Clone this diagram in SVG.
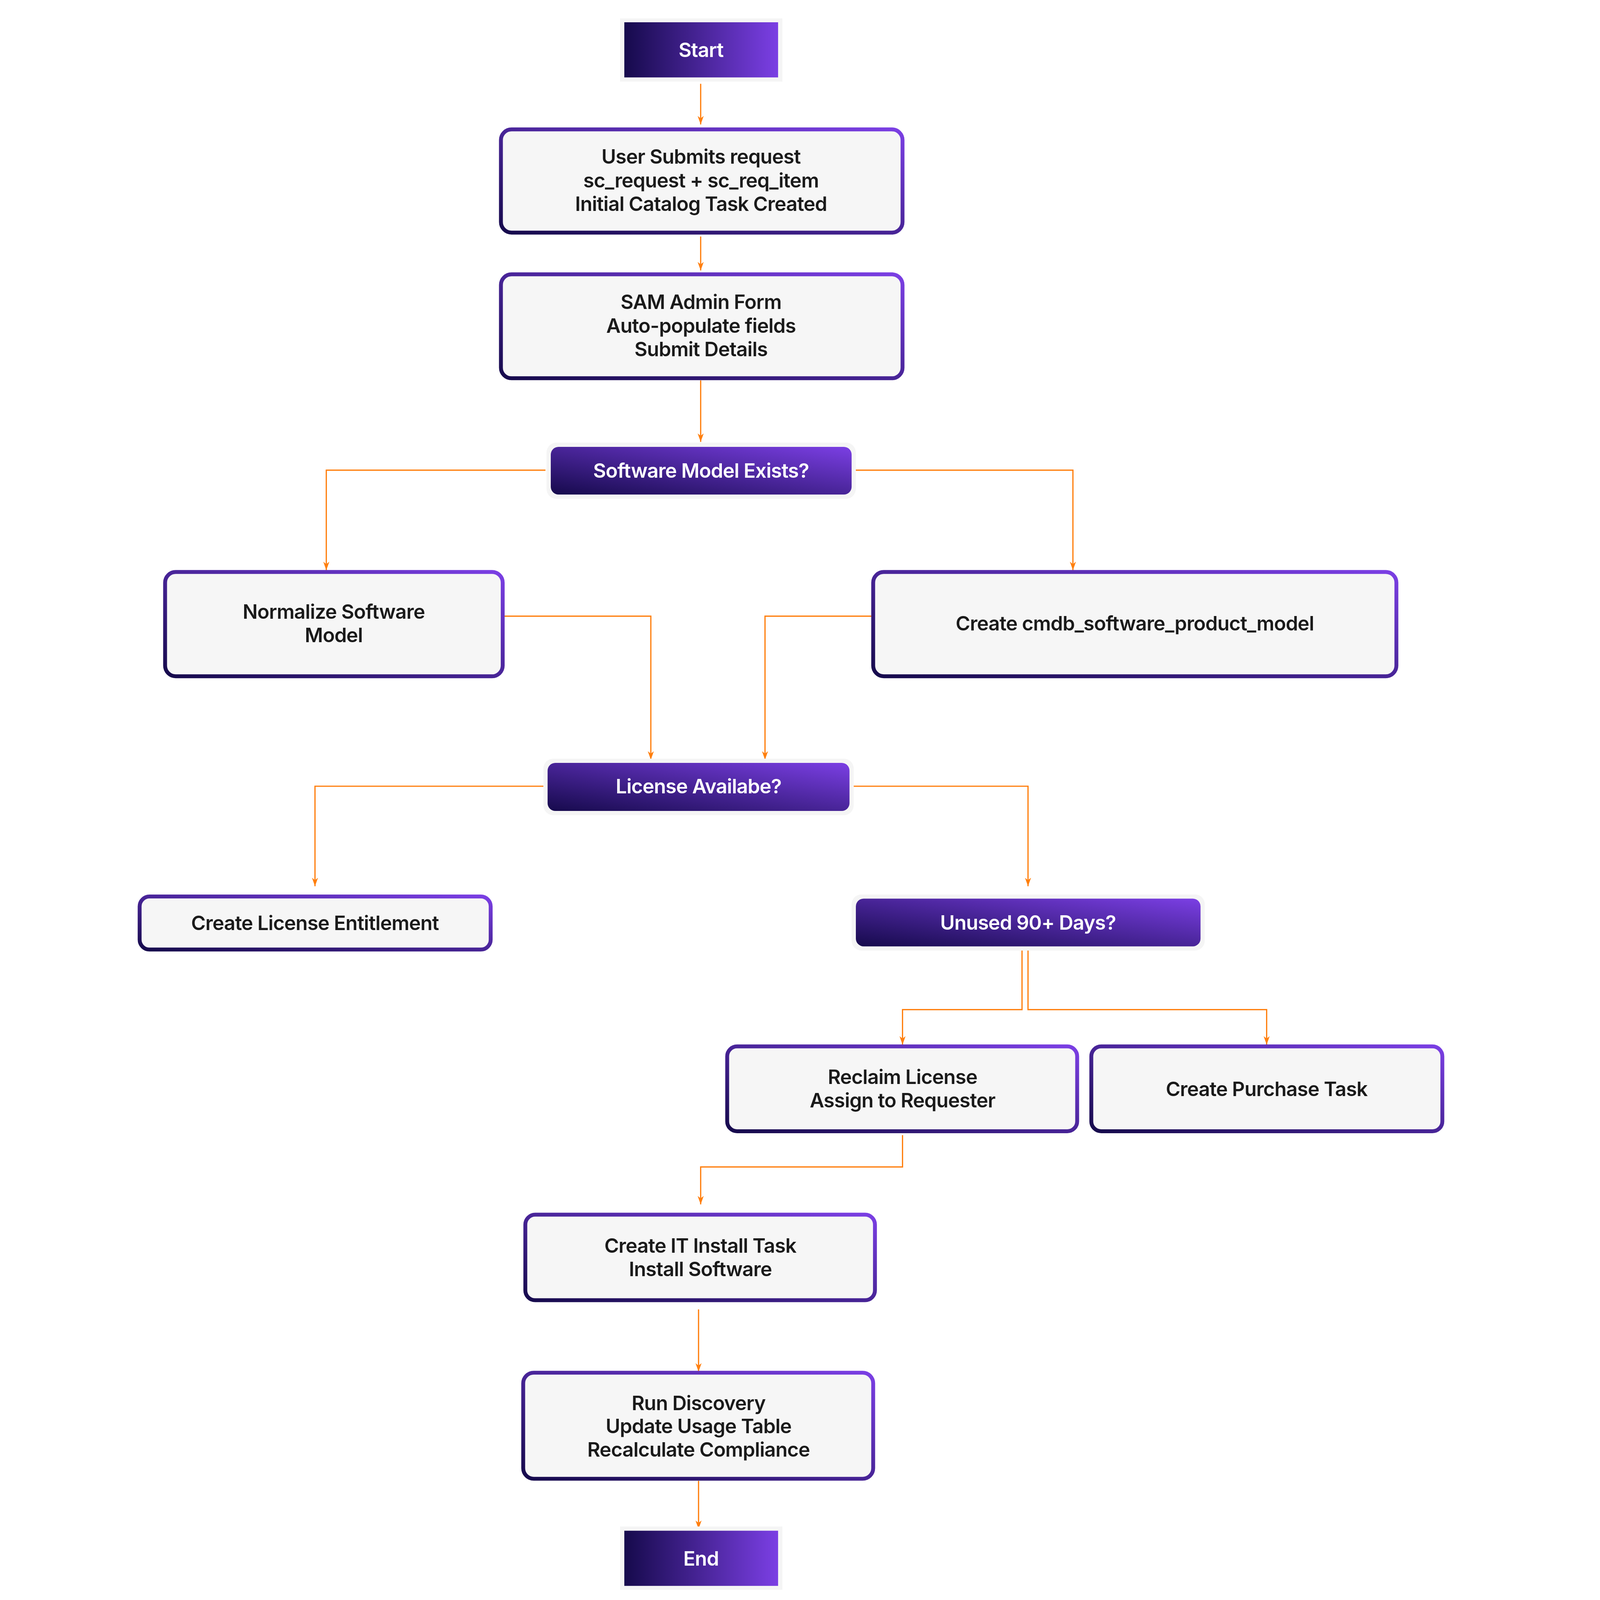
<svg xmlns="http://www.w3.org/2000/svg" width="4500" height="4500" viewBox="0 0 4500 4500">
<defs>
<linearGradient id="g" x1="0" y1="1" x2="1" y2="0"><stop offset="0" stop-color="#160a4c"/><stop offset="1" stop-color="#7b3fe4"/></linearGradient>
<linearGradient id="gh" x1="0" y1="0" x2="1" y2="0"><stop offset="0" stop-color="#160a4c"/><stop offset="1" stop-color="#7b3fe4"/></linearGradient>
<marker id="m" viewBox="0 0 14 10" refX="14" refY="5" markerWidth="24" markerHeight="18" markerUnits="userSpaceOnUse" orient="auto"><path d="M0,0 L14,5 L0,10 L4,5 Z" fill="#ff7f0e"/></marker>
</defs>
<style>
.box{fill:#f6f6f6;stroke:url(#g);stroke-width:11}
.dec{fill:url(#g)}
.halo{fill:#f5f5f5}
.t{font-family:Inter,"Noto Sans",sans-serif;font-size:56px;font-weight:600;fill:#1a1a1a;text-anchor:middle;dominant-baseline:central;letter-spacing:-1px}
.w{fill:#ffffff;font-weight:600}
.c{fill:none;stroke:#ff7f0e;stroke-width:3.5;marker-end:url(#m)}
</style>
<g transform="scale(0.905)">
<g id="connectors">
<path class="c" d="M1982,237 V352"/>
<path class="c" d="M1982,669 V765"/>
<path class="c" d="M1982,1076 V1250"/>
<path class="c" d="M1543,1330 H923 V1613"/>
<path class="c" d="M2412,1330 H3035 V1613"/>
<path class="c" d="M1425,1743 H1841 V2149"/>
<path class="c" d="M2470,1743 H2164 V2149"/>
<path class="c" d="M1543,2224 H891 V2507"/>
<path class="c" d="M2406,2224 H2908 V2507"/>
<path class="c" d="M2891,2686 V2856 H2553 V2955"/>
<path class="c" d="M2908,2686 V2856 H3583 V2955"/>
<path class="c" d="M2553,3211 V3301 H1982 V3407"/>
<path class="c" d="M1976,3704 V3880"/>
<path class="c" d="M1976,4189 V4325"/>
</g>
<g id="start"><rect class="halo" x="1754" y="52" width="459" height="179"/><rect x="1766" y="63" width="435" height="156" fill="url(#gh)"/><text class="t w" x="1983" y="141">Start</text></g>
<g id="submit"><rect class="box" x="1417" y="366" width="1136" height="292" rx="30"/><text class="t" x="1983" y="443">User Submits request</text><text class="t" x="1983" y="510">sc_request + sc_req_item</text><text class="t" x="1983" y="576">Initial Catalog Task Created</text></g>
<g id="sam"><rect class="box" x="1417" y="776" width="1136" height="294" rx="30"/><text class="t" x="1983" y="854">SAM Admin Form</text><text class="t" x="1983" y="921">Auto-populate fields</text><text class="t" x="1983" y="987">Submit Details</text></g>
<g id="modelExists"><rect class="halo" x="1546" y="1252" width="875" height="159" rx="28"/><rect class="dec" x="1558" y="1264" width="851" height="135" rx="22"/><text class="t w" x="1983" y="1331">Software Model Exists?</text></g>
<g id="normalize"><rect class="box" x="467" y="1618" width="955" height="295" rx="30"/><text class="t" x="944" y="1730">Normalize Software</text><text class="t" x="944" y="1796">Model</text></g>
<g id="cmdb"><rect class="box" x="2470" y="1618" width="1480" height="295" rx="30"/><text class="t" x="3210" y="1763">Create cmdb_software_product_model</text></g>
<g id="license"><rect class="halo" x="1537" y="2146" width="878" height="160" rx="28"/><rect class="dec" x="1549" y="2158" width="854" height="136" rx="22"/><text class="t w" x="1976" y="2224">License Availabe?</text></g>
<g id="entitlement"><rect class="box" x="395" y="2536" width="993" height="150" rx="28"/><text class="t" x="891" y="2610">Create License Entitlement</text></g>
<g id="unused"><rect class="halo" x="2409" y="2530" width="999" height="159" rx="28"/><rect class="dec" x="2421" y="2542" width="975" height="135" rx="22"/><text class="t w" x="2908" y="2609">Unused 90+ Days?</text></g>
<g id="reclaim"><rect class="box" x="2057" y="2960" width="990" height="240" rx="28"/><text class="t" x="2553" y="3046">Reclaim License</text><text class="t" x="2553" y="3112">Assign to Requester</text></g>
<g id="purchase"><rect class="box" x="3087" y="2960" width="993" height="240" rx="28"/><text class="t" x="3583" y="3080">Create Purchase Task</text></g>
<g id="install"><rect class="box" x="1486" y="3436" width="989" height="242" rx="28"/><text class="t" x="1981" y="3523">Create IT Install Task</text><text class="t" x="1981" y="3589">Install Software</text></g>
<g id="discovery"><rect class="box" x="1480" y="3883" width="990" height="300" rx="30"/><text class="t" x="1976" y="3968">Run Discovery</text><text class="t" x="1976" y="4034">Update Usage Table</text><text class="t" x="1976" y="4100">Recalculate Compliance</text></g>
<g id="end"><rect class="halo" x="1754" y="4318" width="459" height="179"/><rect x="1766" y="4330" width="435" height="156" fill="url(#gh)"/><text class="t w" x="1983" y="4408">End</text></g>
</g>
</svg>
